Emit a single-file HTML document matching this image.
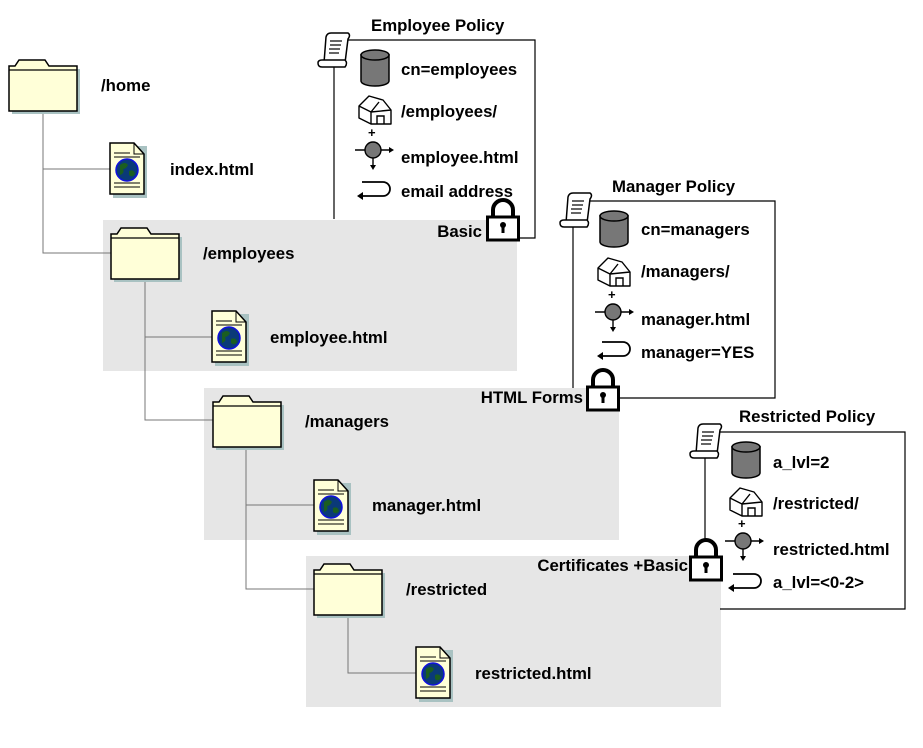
<!DOCTYPE html>
<html><head><meta charset="utf-8"><style>
html,body{margin:0;padding:0;background:#fff;}
svg{display:block;}
text{font-family:"Liberation Sans",Arial,sans-serif;font-weight:bold;font-size:16.8px;fill:#000;}
</style></head><body>
<svg width="923" height="748" viewBox="0 0 923 748" xmlns="http://www.w3.org/2000/svg">
<defs>
<g id="folder">
<rect x="3" y="9" width="68" height="45" fill="#a9c2c2"/>
<path d="M0,6 L6,6 L10,0 L36,0 L40,6 L68,6 L68,51 L0,51 Z" fill="#ffffd8" stroke="#000" stroke-width="1.5"/>
<line x1="0" y1="10" x2="68" y2="10" stroke="#000" stroke-width="1.2"/>
</g>
<g id="doc">
<rect x="3" y="3" width="34" height="52" fill="#a9c2c2"/>
<path d="M0,0 L24,0 L34,11 L34,51 L0,51 Z" fill="#ffffd8" stroke="#000" stroke-width="1.5"/>
<path d="M24,0 L24,11 L34,11" fill="none" stroke="#000" stroke-width="1"/>
<g stroke="#000" stroke-width="1"><line x1="4" y1="10" x2="20" y2="10"/><line x1="4" y1="14" x2="30" y2="14"/><line x1="4" y1="40" x2="30" y2="40"/><line x1="4" y1="44" x2="30" y2="44"/></g>
<circle cx="17" cy="27" r="11" fill="#0a3a78" stroke="#1010e0" stroke-width="1.5"/>
<path d="M10,22 q5,-4 8,0 q-2,4 -5,4 q2,4 -3,6 z M19,28 q5,-2 6,3 q-3,4 -6,1 z" fill="#1b5e20"/>
</g>
<g id="scroll">
<path d="M6,30 L8,4 Q9,0 13,0 L30,0 Q33,2 30,6 L27,30 Z" fill="#fff" stroke="#000" stroke-width="1.5"/>
<path d="M0,30 Q0,27 4,27 L27,27 Q30,30 27,34 L4,34 Q0,34 0,30 Z" fill="#fff" stroke="#000" stroke-width="1.5"/>
<g stroke="#000" stroke-width="1.2"><line x1="12" y1="8" x2="24" y2="8"/><line x1="12" y1="12" x2="23" y2="12"/><line x1="11" y1="16" x2="22" y2="16"/><line x1="11" y1="20" x2="21" y2="20"/></g>
</g>
<g id="cyl">
<path d="M0,5 L0,31 A14,5 0 0 0 28,31 L28,5 Z" fill="#777" stroke="#000" stroke-width="1.5"/>
<ellipse cx="14" cy="5" rx="14" ry="5" fill="#777" stroke="#000" stroke-width="1.5"/>
</g>
<g id="house">
<path d="M0,10 L10,0 L24,4 L32,14 L32,28 L12,28 L0,22 Z M0,10 L12,16 L12,28 M12,16 L20,6 M12,16 L32,14" fill="#fff" stroke="#000" stroke-width="1.4" stroke-linejoin="round"/>
<path d="M18,28 L18,20 L25,20 L25,28" fill="none" stroke="#000" stroke-width="1.4"/>
</g>
<g id="node">
<text x="-5" y="-13" style="font-size:13px">+</text>
<line x1="-18" y1="0" x2="16" y2="0" stroke="#000" stroke-width="1.4"/>
<path d="M16,-3 L21,0 L16,3 Z"/>
<line x1="0" y1="0" x2="0" y2="16" stroke="#000" stroke-width="1.4"/>
<path d="M-3,15 L0,20 L3,15 Z"/>
<circle cx="0" cy="0" r="8" fill="#777" stroke="#000" stroke-width="1.4"/>
</g>
<g id="ret">
<path d="M4,14 L26,14 A7,7 0 0 0 26,0 L5,0" fill="none" stroke="#000" stroke-width="1.8"/>
<path d="M6,10 L0,14 L6,18 Z"/>
</g>
<g id="lock">
<path d="M7,20 L7,12 A10,10 0 0 1 27,12 L27,20" fill="none" stroke="#000" stroke-width="4"/>
<rect x="1.5" y="19" width="31" height="23" fill="#fff" stroke="#000" stroke-width="3"/>
<circle cx="17" cy="27" r="3" fill="#000"/>
<rect x="15.5" y="27" width="3" height="8" fill="#000"/>
</g>
</defs>

<rect x="103" y="220" width="414" height="151" fill="#e6e6e6"/>
<rect x="204" y="388" width="415" height="152" fill="#e6e6e6"/>
<rect x="306" y="556" width="415" height="151" fill="#e6e6e6"/>

<g stroke="#777" stroke-width="1" fill="none">
<path d="M43,111 L43,253 L111,253 M43,169 L110,169"/>
<path d="M145,279 L145,420 L213,420 M145,337 L212,337"/>
<path d="M246,447 L246,589 L314,589 M246,505 L314,505"/>
<path d="M348,615 L348,673 L416,673"/>
</g>

<use href="#folder" x="9" y="60"/>
<text x="101" y="91">/home</text>
<use href="#doc" x="110" y="143"/>
<text x="170" y="175">index.html</text>
<use href="#folder" x="111" y="228"/>
<text x="203" y="259">/employees</text>
<use href="#doc" x="212" y="311"/>
<text x="270" y="343">employee.html</text>
<use href="#folder" x="213" y="396"/>
<text x="305" y="427">/managers</text>
<use href="#doc" x="314" y="480"/>
<text x="372" y="511">manager.html</text>
<use href="#folder" x="314" y="564"/>
<text x="406" y="595">/restricted</text>
<use href="#doc" x="416" y="647"/>
<text x="475" y="679">restricted.html</text>

<g stroke="#000" stroke-width="1.2" fill="none">
<path d="M334,60 L334,219"/>
<path d="M345,40 L535,40 L535,238 L520,238"/>
</g>
<use href="#scroll" x="318" y="33"/>
<text x="371" y="31">Employee Policy</text>
<use href="#cyl" x="361" y="50"/>
<text x="401" y="75">cn=employees</text>
<use href="#house" x="359" y="96"/>
<text x="401" y="117">/employees/</text>
<use href="#node" x="373" y="150"/>
<text x="401" y="163">employee.html</text>
<use href="#ret" x="357" y="182"/>
<text x="401" y="197">email address</text>
<text x="482" y="237" text-anchor="end">Basic</text>
<use href="#lock" x="486" y="198"/>

<g stroke="#000" stroke-width="1.2" fill="none">
<path d="M573,222 L573,388"/>
<path d="M585,201 L775,201 L775,398 L620,398"/>
</g>
<use href="#scroll" x="560" y="193"/>
<text x="612" y="192">Manager Policy</text>
<use href="#cyl" x="600" y="211"/>
<text x="641" y="235">cn=managers</text>
<use href="#house" x="598" y="258"/>
<text x="641" y="277">/managers/</text>
<use href="#node" x="613" y="312"/>
<text x="641" y="325">manager.html</text>
<use href="#ret" x="597" y="342"/>
<text x="641" y="358">manager=YES</text>
<text x="583" y="403" text-anchor="end">HTML Forms</text>
<use href="#lock" x="586" y="368"/>

<g stroke="#000" stroke-width="1.2" fill="none">
<path d="M705,455 L705,540"/>
<path d="M715,432 L905,432 L905,609 L720,609"/>
</g>
<use href="#scroll" x="690" y="424"/>
<text x="739" y="422">Restricted Policy</text>
<use href="#cyl" x="732" y="442"/>
<text x="773" y="468">a_lvl=2</text>
<use href="#house" x="730" y="488"/>
<text x="773" y="509">/restricted/</text>
<use href="#node" x="743" y="541"/>
<text x="773" y="555">restricted.html</text>
<use href="#ret" x="728" y="574"/>
<text x="773" y="588">a_lvl=&lt;0-2&gt;</text>
<text x="688" y="571" text-anchor="end">Certificates +Basic</text>
<use href="#lock" x="689" y="538"/>
</svg>
</body></html>
